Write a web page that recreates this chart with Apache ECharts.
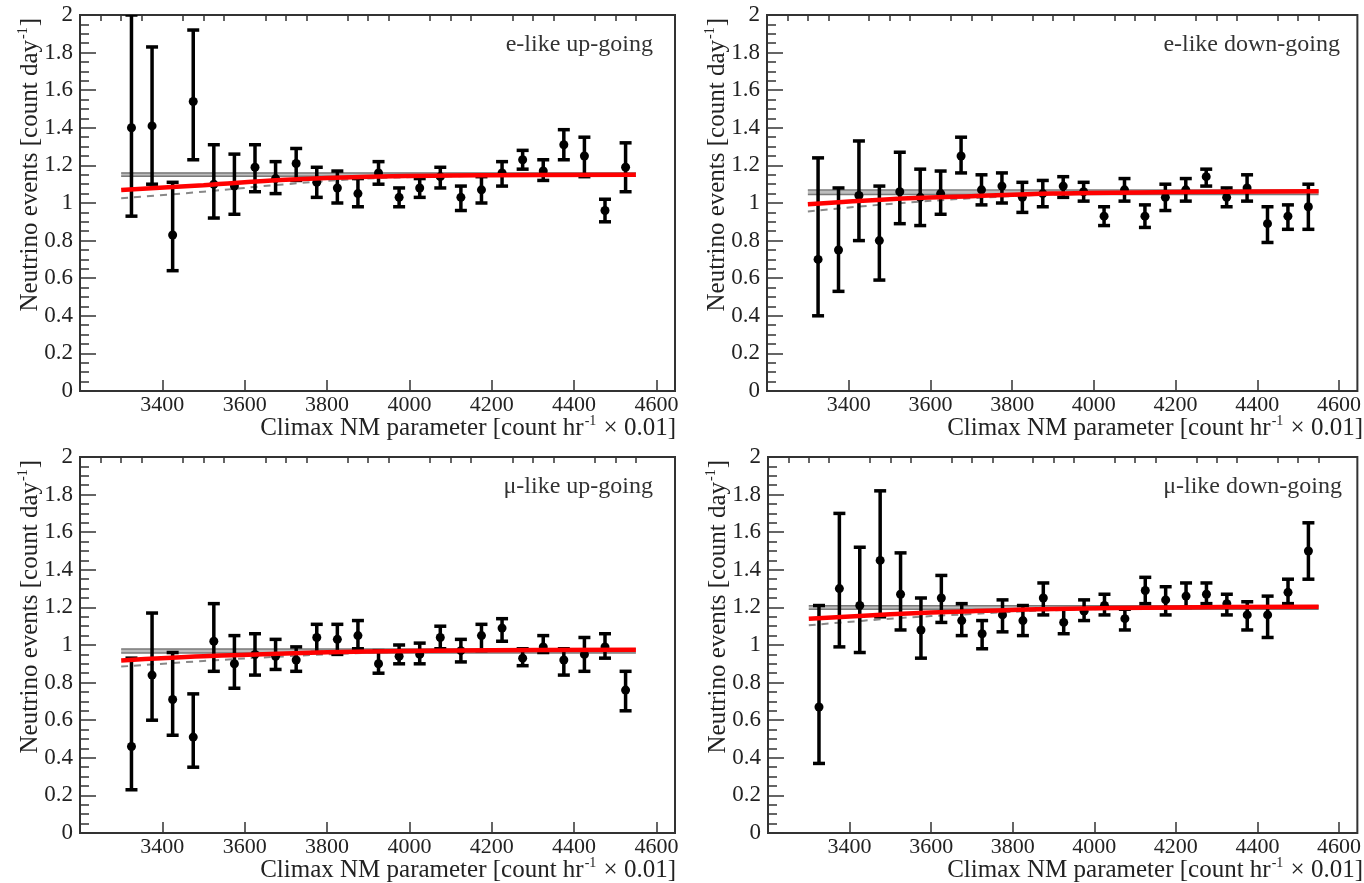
<!DOCTYPE html>
<html>
<head>
<meta charset="utf-8">
<script src="https://cdn.jsdelivr.net/npm/echarts@6/dist/echarts.min.js"></script>
<style>
  html, body { margin: 0; padding: 0; background: #fff; }
  #chart { width: 1364px; height: 883px; }
</style>
</head>
<body>
<div id="chart"></div>
<script>
// Bin centres of the Climax neutron-monitor parameter (count/hr x 0.01)
const binCenters = [3325, 3375, 3425, 3475, 3525, 3575, 3625, 3675, 3725, 3775, 3825, 3875, 3925,
                    3975, 4025, 4075, 4125, 4175, 4225, 4275, 4325, 4375, 4425, 4475, 4525];
const majorTicksX = [3400, 3600, 3800, 4000, 4200, 4400, 4600];
const minorTicksX = [3250, 3300, 3350, 3450, 3500, 3550, 3650, 3700, 3750, 3850, 3900, 3950,
                     4050, 4100, 4150, 4250, 4300, 4350, 4450, 4500, 4550];
const panelNames = ['e-like up-going', 'e-like down-going', '\u03bc-like up-going', '\u03bc-like down-going'];

// e-like up-going
const eUpValue = [1.40, 1.41, 0.83, 1.54, 1.10, 1.09, 1.19, 1.13, 1.21, 1.11, 1.08, 1.05, 1.16, 1.03, 1.08, 1.14, 1.03, 1.07, 1.16, 1.23, 1.17, 1.31, 1.25, 0.96, 1.19];
const eUpLow   = [0.93, 1.10, 0.64, 1.23, 0.92, 0.94, 1.06, 1.05, 1.12, 1.03, 1.00, 0.98, 1.10, 0.98, 1.03, 1.08, 0.96, 1.00, 1.09, 1.18, 1.12, 1.23, 1.14, 0.90, 1.06];
const eUpHigh  = [2.00, 1.83, 1.11, 1.92, 1.31, 1.26, 1.31, 1.22, 1.29, 1.19, 1.17, 1.13, 1.22, 1.08, 1.13, 1.19, 1.09, 1.14, 1.22, 1.28, 1.23, 1.39, 1.35, 1.02, 1.32];

// e-like down-going
const eDownValue = [0.70, 0.75, 1.04, 0.80, 1.06, 1.03, 1.05, 1.25, 1.07, 1.09, 1.03, 1.05, 1.09, 1.06, 0.93, 1.07, 0.93, 1.03, 1.07, 1.14, 1.03, 1.08, 0.89, 0.93, 0.98];
const eDownLow   = [0.40, 0.53, 0.80, 0.59, 0.89, 0.88, 0.94, 1.16, 0.99, 1.00, 0.95, 0.98, 1.03, 1.01, 0.88, 1.01, 0.87, 0.96, 1.01, 1.09, 0.98, 1.01, 0.79, 0.86, 0.86];
const eDownHigh  = [1.24, 1.08, 1.33, 1.09, 1.27, 1.18, 1.17, 1.35, 1.15, 1.16, 1.11, 1.12, 1.14, 1.11, 0.98, 1.13, 0.99, 1.10, 1.13, 1.18, 1.08, 1.15, 0.98, 0.99, 1.10];

// mu-like up-going
const muUpValue = [0.46, 0.84, 0.71, 0.51, 1.02, 0.90, 0.95, 0.94, 0.92, 1.04, 1.03, 1.05, 0.90, 0.94, 0.95, 1.04, 0.97, 1.05, 1.09, 0.93, 0.99, 0.92, 0.95, 0.99, 0.76];
const muUpLow   = [0.23, 0.60, 0.52, 0.35, 0.86, 0.77, 0.84, 0.87, 0.86, 0.96, 0.95, 0.98, 0.85, 0.90, 0.90, 0.98, 0.91, 0.97, 1.02, 0.89, 0.96, 0.84, 0.86, 0.93, 0.65];
const muUpHigh  = [0.93, 1.17, 0.96, 0.74, 1.22, 1.05, 1.06, 1.03, 0.99, 1.11, 1.11, 1.13, 0.97, 1.00, 1.01, 1.10, 1.03, 1.11, 1.14, 0.98, 1.05, 0.98, 1.04, 1.06, 0.86];

// mu-like down-going
const muDownValue = [0.67, 1.30, 1.21, 1.45, 1.27, 1.08, 1.25, 1.13, 1.06, 1.16, 1.13, 1.25, 1.12, 1.18, 1.21, 1.14, 1.29, 1.24, 1.26, 1.27, 1.22, 1.16, 1.16, 1.28, 1.50];
const muDownLow   = [0.37, 0.99, 0.96, 1.15, 1.08, 0.93, 1.12, 1.05, 0.98, 1.07, 1.05, 1.16, 1.06, 1.13, 1.16, 1.08, 1.22, 1.16, 1.20, 1.22, 1.16, 1.08, 1.04, 1.22, 1.35];
const muDownHigh  = [1.21, 1.70, 1.52, 1.82, 1.49, 1.25, 1.37, 1.22, 1.13, 1.24, 1.21, 1.33, 1.19, 1.24, 1.27, 1.19, 1.36, 1.31, 1.33, 1.33, 1.27, 1.23, 1.26, 1.35, 1.65];

// Fit curves sampled along the parameter axis
const fitX = [3300, 3500, 3700, 3900, 4200, 4550];
const eUpFit      = [1.069, 1.095, 1.124, 1.140, 1.148, 1.150];
const eUpAlt      = [1.025, 1.060, 1.100, 1.130, 1.145, 1.150];
const eDownFit    = [0.993, 1.020, 1.036, 1.050, 1.058, 1.062];
const eDownAlt    = [0.955, 0.995, 1.025, 1.045, 1.056, 1.060];
const muUpFit     = [0.918, 0.940, 0.955, 0.965, 0.972, 0.975];
const muUpAlt     = [0.885, 0.915, 0.940, 0.958, 0.970, 0.975];
const muDownFit   = [1.140, 1.163, 1.180, 1.192, 1.200, 1.204];
const muDownAlt   = [1.105, 1.140, 1.165, 1.185, 1.197, 1.203];

// Constant-rate fit band [lower, upper]
const eUpConst    = [1.142, 1.160];
const eDownConst  = [1.045, 1.069];
const muUpConst   = [0.958, 0.979];
const muDownConst = [1.190, 1.209];

const panels = [
  { name: panelNames[0], value: eUpValue, low: eUpLow, high: eUpHigh, fit: eUpFit, alt: eUpAlt, band: eUpConst },
  { name: panelNames[1], value: eDownValue, low: eDownLow, high: eDownHigh, fit: eDownFit, alt: eDownAlt, band: eDownConst },
  { name: panelNames[2], value: muUpValue, low: muUpLow, high: muUpHigh, fit: muUpFit, alt: muUpAlt, band: muUpConst },
  { name: panelNames[3], value: muDownValue, low: muDownLow, high: muDownHigh, fit: muDownFit, alt: muDownAlt, band: muDownConst }
];

// Frame geometry of the four pads
const frames = [
  { left: 80,  top: 15,  width: 595, height: 376 },
  { left: 767, top: 15,  width: 595, height: 376 },
  { left: 80,  top: 457, width: 595, height: 376 },
  { left: 768, top: 457, width: 594, height: 376 }
];

const FONT = "'Liberation Serif', 'DejaVu Serif', serif";
const X_MIN = 3200, X_MAX = 4645;

function renderErrorBar(params, api) {
  const x = api.value(0), y = api.value(1), lo = api.value(2), hi = api.value(3);
  const c = api.coord([x, y]);
  const a = api.coord([x, hi]);
  const b = api.coord([x, lo]);
  const cap = 6;
  const st = { stroke: '#000', lineWidth: 3.5 };
  return {
    type: 'group',
    children: [
      { type: 'line', shape: { x1: c[0], y1: a[1], x2: c[0], y2: b[1] }, style: st },
      { type: 'line', shape: { x1: c[0] - cap, y1: a[1], x2: c[0] + cap, y2: a[1] }, style: st },
      { type: 'line', shape: { x1: c[0] - cap, y1: b[1], x2: c[0] + cap, y2: b[1] }, style: st },
      { type: 'circle', shape: { cx: c[0], cy: c[1], r: 4.5 }, style: { fill: '#000' } }
    ]
  };
}

const grid = [], xAxis = [], yAxis = [], series = [], graphic = [];
const superRich = {
  a: { fontFamily: FONT, fontSize: 25, fill: '#222' },
  s: { fontFamily: FONT, fontSize: 14, fill: '#222', padding: [0, 1, 13, 1] }
};

panels.forEach((p, i) => {
  const f = frames[i];
  grid.push({ left: f.left, top: f.top, width: f.width, height: f.height,
              show: true, borderColor: '#333', borderWidth: 2, backgroundColor: '#fff' });

  // major ticks with labels
  xAxis.push({
    type: 'value', gridIndex: i, min: X_MIN, max: X_MAX,
    axisLine: { show: false }, splitLine: { show: false },
    axisTick: { show: true, inside: true, length: 11, customValues: majorTicksX,
                lineStyle: { color: '#333', width: 1.5 } },
    axisLabel: { show: true, customValues: majorTicksX, margin: 3,
                 formatter: v => String(v),
                 fontFamily: FONT, fontSize: 22, color: '#222' }
  });
  // minor ticks
  xAxis.push({
    type: 'value', gridIndex: i, min: X_MIN, max: X_MAX,
    axisLine: { show: false }, splitLine: { show: false },
    axisTick: { show: true, inside: true, length: 6, customValues: minorTicksX,
                lineStyle: { color: '#333', width: 1.5 } },
    axisLabel: { show: false }
  });
  yAxis.push({
    type: 'value', gridIndex: i, min: 0, max: 2, interval: 0.2,
    axisLine: { show: false }, splitLine: { show: false },
    axisTick: { show: true, inside: true, length: 16, lineStyle: { color: '#333', width: 1.5 } },
    minorTick: { show: true, splitNumber: 4, length: 9, lineStyle: { color: '#333', width: 1.5 } },
    axisLabel: { margin: 7, fontFamily: FONT, fontSize: 23, color: '#222' }
  });

  const xi = 2 * i;
  const bandMid = (p.band[0] + p.band[1]) / 2;
  const flat = v => [fitX[0], fitX[fitX.length - 1]].map(x => [x, v]);

  series.push({
    type: 'line', xAxisIndex: xi, yAxisIndex: i, data: flat(bandMid),
    symbol: 'none', silent: true, z: 1,
    lineStyle: { color: '#bdbdbd', width: 4 }
  });
  [p.band[0], p.band[1]].forEach(v => series.push({
    type: 'line', xAxisIndex: xi, yAxisIndex: i, data: flat(v),
    symbol: 'none', silent: true, z: 2,
    lineStyle: { color: '#7a7a7a', width: 1.5 }
  }));
  series.push({
    type: 'line', xAxisIndex: xi, yAxisIndex: i,
    data: fitX.map((x, k) => [x, p.alt[k]]),
    smooth: 0.4, symbol: 'none', silent: true, z: 2,
    lineStyle: { color: '#888', width: 2, type: [7, 6] }
  });
  series.push({
    type: 'custom', xAxisIndex: xi, yAxisIndex: i,
    renderItem: renderErrorBar, clip: true, z: 3,
    encode: { x: 0, y: [1, 2, 3] },
    data: binCenters.map((x, k) => [x, p.value[k], p.low[k], p.high[k]])
  });
  series.push({
    type: 'line', xAxisIndex: xi, yAxisIndex: i,
    data: fitX.map((x, k) => [x, p.fit[k]]),
    smooth: 0.4, symbol: 'none', silent: true, z: 4,
    lineStyle: { color: '#ff0000', width: 4.5 }
  });

  // axis titles and panel label
  const right = f.left + f.width;
  graphic.push({
    type: 'text', x: right + 1, y: f.top + f.height + 37,
    style: {
      text: '{a|Climax NM parameter [count hr}{s|-1}{a| \u00d7 0.01]}',
      align: 'right', verticalAlign: 'middle', rich: superRich
    }
  });
  graphic.push({
    type: 'text', x: f.left - 50, y: f.top + 3, rotation: Math.PI / 2,
    style: {
      text: '{a|Neutrino events [count day}{s|-1}{a|]}',
      align: 'right', verticalAlign: 'middle', rich: superRich
    }
  });
  graphic.push({
    type: 'text', x: right - (i === 3 ? 20 : 22), y: f.top + 30,
    style: { text: p.name, align: 'right', verticalAlign: 'middle',
             fontFamily: FONT, fontSize: 24, fill: '#333' }
  });
});

const chart = echarts.init(document.getElementById('chart'));
chart.setOption({
  animation: false,
  backgroundColor: '#fff',
  grid, xAxis, yAxis, series, graphic
});
</script>
</body>
</html>
